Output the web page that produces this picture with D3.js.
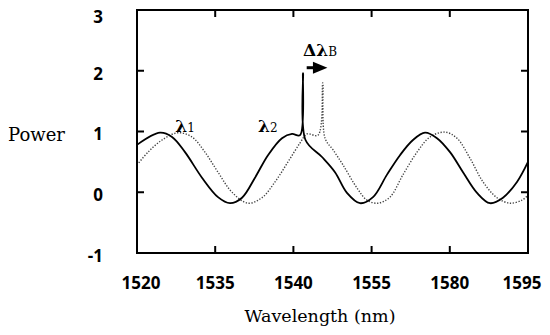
<!DOCTYPE html>
<html>
<head>
<meta charset="utf-8">
<script src="https://cdn.jsdelivr.net/npm/d3@7"></script>
<style>
    body { margin: 0; background: #fff; }
</style>
</head>
<body>
<div id="chart"></div>
<script>
// x axis: six evenly spaced positions, labelled as in the figure
const wavelengthLabels = ["1520", "1535", "1540", "1555", "1580", "1595"];
const powerTicks = [3, 2, 1, 0, -1];

// lambda 1 (solid), position along axis (0..5) and power
const solidPos = [0.000, 0.294, 0.448, 0.614, 0.831, 1.036, 1.189, 1.343, 1.509, 1.675, 1.854, 1.982, 2.084,
    2.123, 2.155, 2.366, 2.532, 2.685, 2.852, 3.018, 3.197, 3.363, 3.529, 3.683, 3.836, 4.003, 4.169,
    4.348, 4.514, 4.680, 4.859, 5.000];
const solidPower = [0.78, 0.98, 0.91, 0.66, 0.24, -0.08, -0.18, -0.09, 0.24, 0.61, 0.89, 0.96, 0.94,
    1.96, 0.86, 0.58, 0.33, -0.01, -0.18, -0.08, 0.29, 0.61, 0.86, 0.98, 0.89, 0.66, 0.33,
    -0.01, -0.18, -0.09, 0.17, 0.50];

// lambda 2 (dotted)
const dottedPos = [0.000, 0.141, 0.320, 0.524, 0.703, 0.869, 1.036, 1.215, 1.419, 1.598, 1.765, 1.931, 2.084,
    2.174, 2.315, 2.375, 2.404, 2.506, 2.634, 2.813, 2.941, 3.082, 3.235, 3.402, 3.581, 3.747, 3.939,
    4.092, 4.258, 4.425, 4.604, 4.770, 4.923, 5.000];
const dottedPower = [0.45, 0.66, 0.86, 0.98, 0.91, 0.66, 0.33, 0.00, -0.18, -0.09, 0.17, 0.50, 0.81,
    0.96, 0.94, 1.80, 0.89, 0.70, 0.45, 0.07, -0.13, -0.18, -0.08, 0.29, 0.66, 0.91, 0.99,
    0.89, 0.56, 0.17, -0.09, -0.18, -0.13, -0.05];

const width = 550;
const height = 335;
const margin = {left: 137, right: 22, top: 10, bottom: 82};

const svg = d3.select("#chart")
    .append("svg")
    .attr("width", width)
    .attr("height", height)
    .style("font-family", "'Open Sans', sans-serif");

const xScale = d3.scaleLinear()
    .domain([0, wavelengthLabels.length - 1])
    .range([margin.left, width - margin.right]);

const yScale = d3.scaleLinear()
    .domain([-1, 3])
    .range([height - margin.bottom, margin.top]);

const serif = "'DejaVu Serif', serif";

// curves
const line = d3.line()
    .x(d => xScale(d[0]))
    .y(d => yScale(d[1]))
    .curve(d3.curveCatmullRom.alpha(0.5));

const dotted = d3.zip(dottedPos, dottedPower);
const solid = d3.zip(solidPos, solidPower);

svg.append("path")
    .attr("d", line(dotted))
    .attr("fill", "none")
    .attr("stroke", "#444")
    .attr("stroke-width", 1.4)
    .attr("stroke-dasharray", "1.3,1.6");

svg.append("path")
    .attr("d", line(solid))
    .attr("fill", "none")
    .attr("stroke", "#000")
    .attr("stroke-width", 1.8)
    .attr("stroke-linejoin", "round");

// frame
svg.append("rect")
    .attr("x", xScale(0))
    .attr("y", yScale(3))
    .attr("width", xScale(5) - xScale(0))
    .attr("height", yScale(-1) - yScale(3))
    .attr("fill", "none")
    .attr("stroke", "#000")
    .attr("stroke-width", 2);

// ticks, mirrored on all four sides
const innerX = d3.range(1, wavelengthLabels.length - 1);
const innerY = [2, 1, 0];
const tickLen = 7;

const ticks = svg.append("g")
    .attr("stroke", "#000")
    .attr("stroke-width", 2);

innerX.forEach(i => {
    ticks.append("line")
        .attr("x1", xScale(i)).attr("x2", xScale(i))
        .attr("y1", yScale(-1)).attr("y2", yScale(-1) - tickLen);
    ticks.append("line")
        .attr("x1", xScale(i)).attr("x2", xScale(i))
        .attr("y1", yScale(3)).attr("y2", yScale(3) + tickLen);
});
innerY.forEach(v => {
    ticks.append("line")
        .attr("x1", xScale(0)).attr("x2", xScale(0) + tickLen)
        .attr("y1", yScale(v)).attr("y2", yScale(v));
    ticks.append("line")
        .attr("x1", xScale(5)).attr("x2", xScale(5) - tickLen)
        .attr("y1", yScale(v)).attr("y2", yScale(v));
});

// tick labels
svg.append("g")
    .selectAll("text")
    .data(wavelengthLabels)
    .enter()
    .append("text")
    .attr("x", (d, i) => Math.min(Math.max(xScale(i), 141), 522))
    .attr("y", 283)
    .attr("dy", "0.35em")
    .attr("text-anchor", "middle")
    .attr("font-size", 17)
    .attr("font-weight", "bold")
    .text(d => d);

svg.append("g")
    .selectAll("text")
    .data(powerTicks)
    .enter()
    .append("text")
    .attr("x", 103)
    .attr("y", d => Math.max(yScale(d) + 3, 17))
    .attr("dy", "0.35em")
    .attr("text-anchor", "end")
    .attr("font-size", 17)
    .attr("font-weight", "bold")
    .text(d => d);

// axis titles
svg.append("text")
    .attr("x", 8)
    .attr("y", 135)
    .attr("dy", "0.35em")
    .attr("font-family", serif)
    .attr("font-size", 18)
    .text("Power");

svg.append("text")
    .attr("x", 320)
    .attr("y", 322)
    .attr("text-anchor", "middle")
    .attr("font-family", serif)
    .attr("font-size", 17.5)
    .text("Wavelength (nm)");

// annotations
const lambdaLabel = (x, y, main, sub) => {
    const t = svg.append("text")
        .attr("x", xScale(x))
        .attr("y", yScale(y))
        .attr("font-family", serif)
        .attr("font-weight", "bold")
        .attr("font-size", 17);
    t.append("tspan").text(main);
    t.append("tspan").attr("font-size", 12).attr("font-weight", "normal").text(sub);
};

lambdaLabel(0.49, 1.0, "λ", "1");
lambdaLabel(1.548, 1.0, "λ", "2");
lambdaLabel(2.124, 2.25, "Δλ", "B");

const arrowY = yScale(2.05);
svg.append("line")
    .attr("x1", xScale(2.17))
    .attr("x2", xScale(2.26))
    .attr("y1", arrowY)
    .attr("y2", arrowY)
    .attr("stroke", "#000")
    .attr("stroke-width", 3);

svg.append("path")
    .attr("d", d3.line()([
        [xScale(2.25), arrowY - 6],
        [xScale(2.435), arrowY],
        [xScale(2.25), arrowY + 6]
    ]) + "Z")
    .attr("fill", "#000");
</script>
</body>
</html>
